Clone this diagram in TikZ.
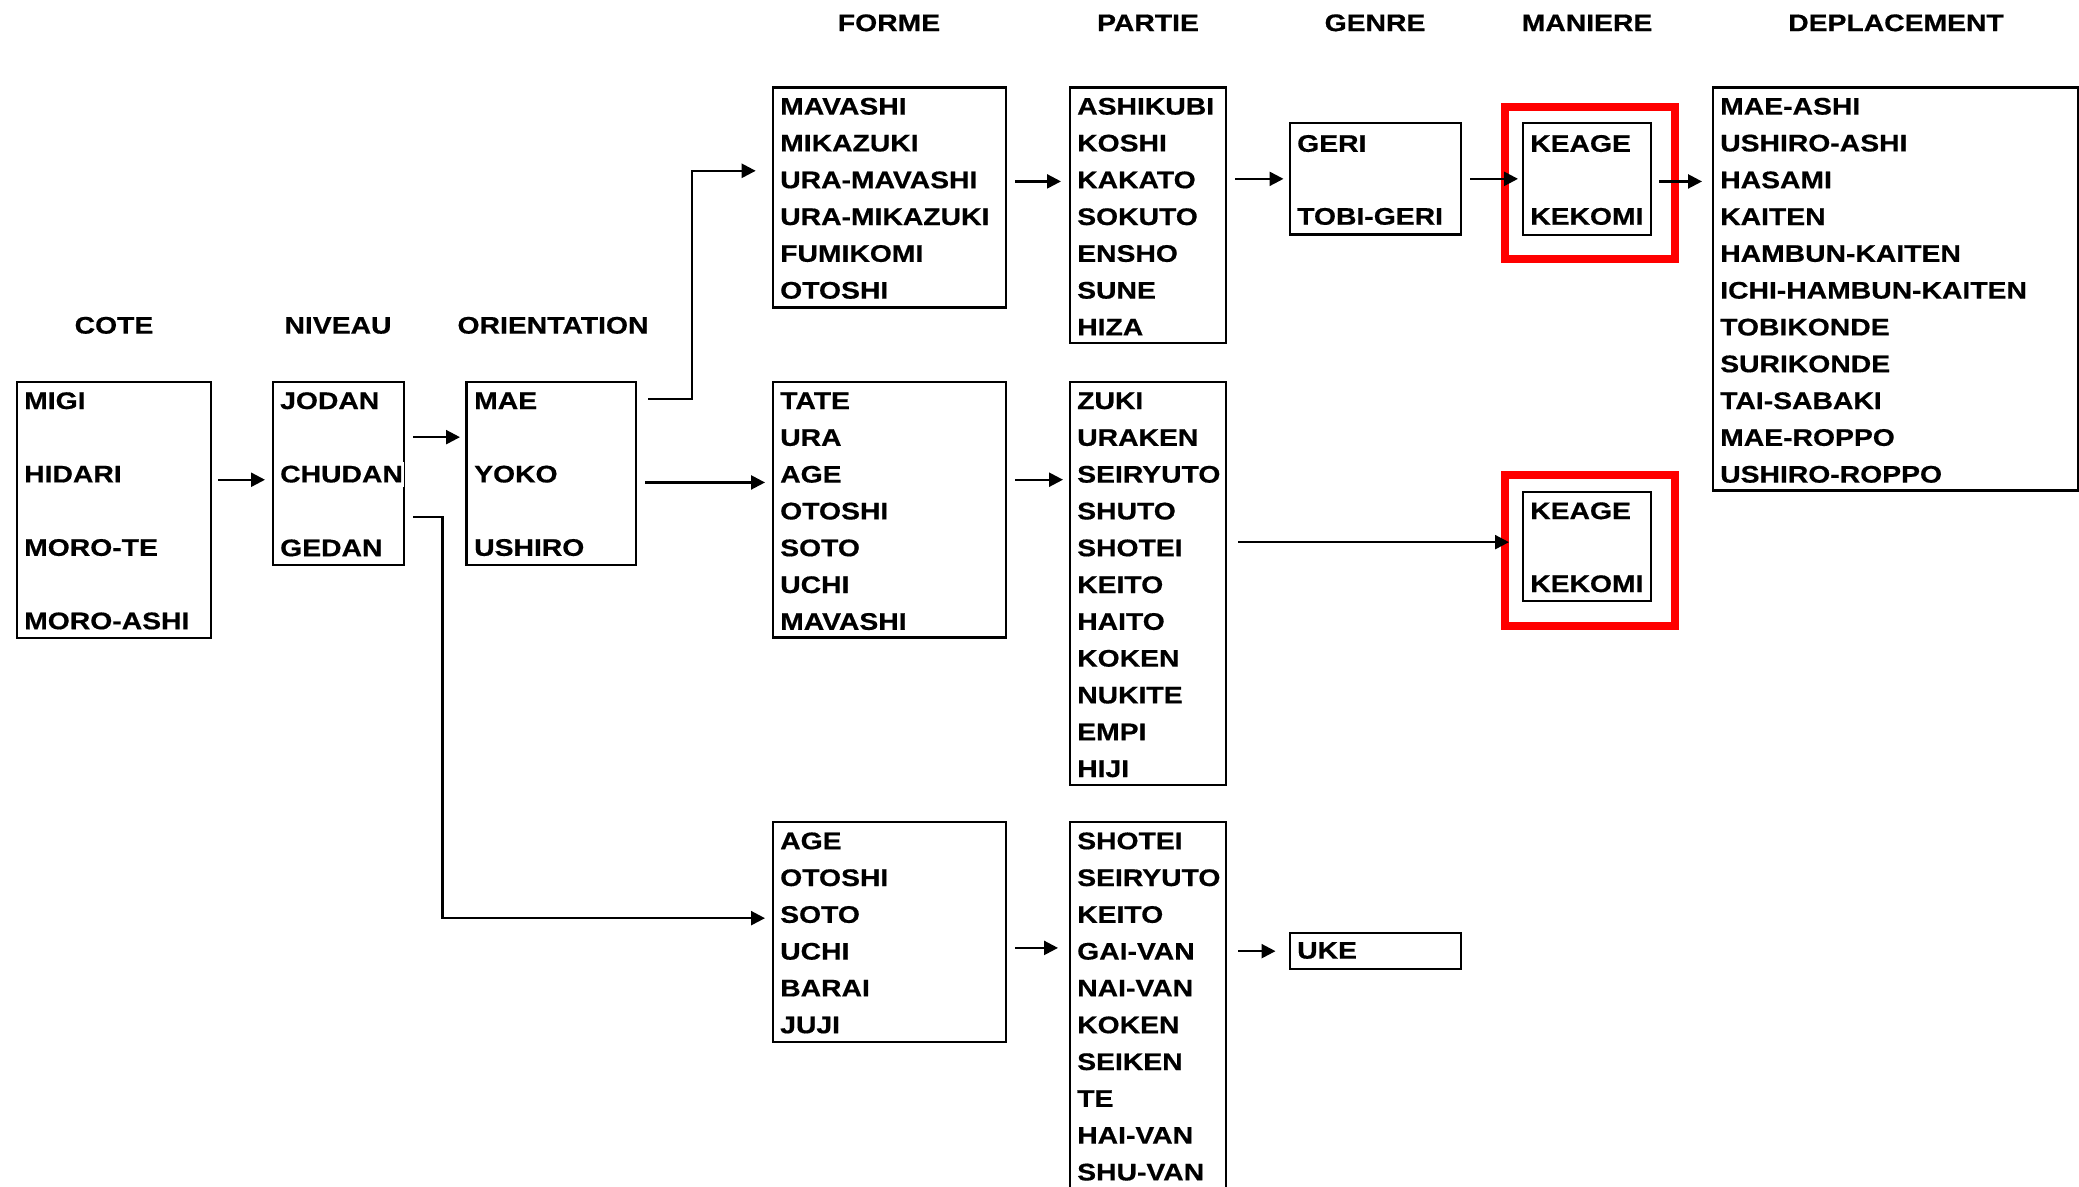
\documentclass[tikz,border=0pt]{standalone}
\usepackage{fontspec}
\newfontfamily\pixfont[FakeStretch=1.18,BoldFeatures={FakeBold=0.6}]{Liberation Sans}
\usetikzlibrary{arrows.meta}
\newcommand\colitems[5]{%
  \foreach \t [count=\i] in {#5} {\node[item] (#1-\i) at (#2,{#3+(\i-1)*#4+8.6}) {\t};}}
\begin{document}
\begin{tikzpicture}[x=1pt,y=-1pt,
  box/.style={draw,line width=2.3pt,anchor=north west,inner sep=0pt},
  redframe/.style={draw=red,line width=8pt,anchor=north west,inner sep=0pt},
  item/.style={anchor=base west,inner sep=0pt,font=\pixfont\bfseries\fontsize{24}{24}\selectfont},
  head/.style={anchor=base,inner sep=0pt,font=\pixfont\bfseries\fontsize{24}{24}\selectfont},
  arr/.style={line width=2.4pt,-{Triangle[length=14pt,width=14pt]}}
]
\useasboundingbox (0,0) rectangle (2079,1186);
\clip (0,0) rectangle (2079,1186);

% headers
\node[head] (hcote) at (114,333.6) {COTE};
\node[head] (hniveau) at (338,333.6) {NIVEAU};
\node[head] (horient) at (553,333.6) {ORIENTATION};
\node[head] (hforme) at (889,31.1) {FORME};
\node[head] (hpartie) at (1148,31.1) {PARTIE};
\node[head] (hgenre) at (1375,31.1) {GENRE};
\node[head] (hmaniere) at (1587,31.1) {MANIERE};
\node[head] (hdepl) at (1896,31.1) {DEPLACEMENT};

% boxes
\node[box,minimum width=193.5pt,minimum height=256pt] (cote) at (16,380.5) {};
\node[box,minimum width=131.2pt,minimum height=183pt] (niveau) at (271.8,380.5) {};
\node[box,minimum width=169.6pt,minimum height=183pt] (orient) at (465.4,380.5) {};
\node[box,minimum width=233.3pt,minimum height=220.1pt] (formeA) at (771.7,86.2) {};
\node[box,minimum width=156.4pt,minimum height=255.8pt] (partieA) at (1068.7,86.2) {};
\node[box,minimum width=171pt,minimum height=111.4pt] (genre) at (1288.8,122) {};
\node[redframe,minimum width=170pt,minimum height=152pt] (frameA) at (1501,103) {};
\node[box,minimum width=128pt,minimum height=112pt] (maniereA) at (1522,122) {};
\node[box,minimum width=365.3pt,minimum height=403.1pt] (depl) at (1711.7,86.2) {};
\node[box,minimum width=233.3pt,minimum height=255.9pt] (formeB) at (771.7,380.5) {};
\node[box,minimum width=156.4pt,minimum height=403.1pt] (partieB) at (1068.7,380.5) {};
\node[redframe,minimum width=170pt,minimum height=150.5pt] (frameB) at (1501,471) {};
\node[box,minimum width=128pt,minimum height=109.5pt] (maniereB) at (1522,490.5) {};
\node[box,minimum width=233.3pt,minimum height=220.1pt] (formeC) at (771.7,820.7) {};
\node[box,minimum width=156.4pt,minimum height=400pt] (partieC) at (1068.7,820.7) {};
\node[box,minimum width=171pt,minimum height=36pt] (uke) at (1288.8,932) {};

% items
\colitems{cote}{24}{400.4}{73.4}{MIGI,HIDARI,MORO-TE,MORO-ASHI}
\node[item] (niveau-1) at (280,409) {JODAN};
\node[item,fill=white,inner xsep=1.5pt,inner ysep=4pt] (niveau-2) at (278.5,482.4) {CHUDAN};
\node[item] (niveau-3) at (280,556.2) {GEDAN};
\colitems{orient}{474}{400.4}{73.4}{MAE,YOKO,USHIRO}
\colitems{formeA}{780}{106}{36.8}{MAVASHI,MIKAZUKI,URA-MAVASHI,URA-MIKAZUKI,FUMIKOMI,OTOSHI}
\colitems{partieA}{1077}{106}{36.8}{ASHIKUBI,KOSHI,KAKATO,SOKUTO,ENSHO,SUNE,HIZA}
\colitems{genre}{1297}{143.2}{72.9}{GERI,TOBI-GERI}
\colitems{maniereA}{1530}{143.2}{72.9}{KEAGE,KEKOMI}
\colitems{depl}{1720}{106}{36.8}{MAE-ASHI,USHIRO-ASHI,HASAMI,KAITEN,HAMBUN-KAITEN,ICHI-HAMBUN-KAITEN,TOBIKONDE,SURIKONDE,TAI-SABAKI,MAE-ROPPO,USHIRO-ROPPO}
\colitems{formeB}{780}{400.4}{36.8}{TATE,URA,AGE,OTOSHI,SOTO,UCHI,MAVASHI}
\colitems{partieB}{1077}{400.4}{36.8}{ZUKI,URAKEN,SEIRYUTO,SHUTO,SHOTEI,KEITO,HAITO,KOKEN,NUKITE,EMPI,HIJI}
\colitems{maniereB}{1530}{510.5}{72.9}{KEAGE,KEKOMI}
\colitems{formeC}{780}{840.6}{36.8}{AGE,OTOSHI,SOTO,UCHI,BARAI,JUJI}
\colitems{partieC}{1077}{840.6}{36.8}{SHOTEI,SEIRYUTO,KEITO,GAI-VAN,NAI-VAN,KOKEN,SEIKEN,TE,HAI-VAN,SHU-VAN}
\node[item] (uke-1) at (1297,958.6) {UKE};

% connectors
\draw[arr,shorten <=6.5pt,shorten >=6.8pt] ([yshift=29.9pt]cote.east) coordinate (s1) -- (niveau.west |- s1);
\draw[arr,shorten <=8pt,shorten >=5.4pt] ([yshift=36pt]niveau.east) coordinate (s2) -- (orient.west |- s2);
\draw[arr,shorten <=10.7pt,shorten >=16pt] ([yshift=74.2pt]orient.east) -- ++(54.5,0) |- ([yshift=26.6pt]formeA.west);
\draw[arr,shorten <=8pt,shorten >=6.7pt] ([yshift=-9.3pt]orient.east) coordinate (s4) -- (formeB.west |- s4);
\draw[arr,shorten <=8pt,shorten >=6.7pt] ([yshift=-43.8pt]niveau.east) -- ++(37.2,0) |- ([yshift=13.75pt]formeC.west);
\draw[arr,shorten <=8pt,shorten >=7.7pt] ([yshift=16pt]formeA.east) coordinate (s6) -- (partieA.west |- s6);
\draw[arr,shorten <=8pt,shorten >=5.3pt] (partieA.east |- genre.west) -- (genre.west);
\draw[arr,shorten <=8pt,shorten >=4pt] (genre.east) -- (maniereA.west |- genre.east);
\draw[arr,shorten <=7pt,shorten >=9.7pt] ([yshift=-2.3pt]maniereA.east) coordinate (s9) -- (depl.west |- s9);
\draw[arr,shorten <=8pt,shorten >=5.7pt] ([yshift=29.9pt]formeB.east) coordinate (s10) -- (partieB.west |- s10);
\path ([yshift=4.25pt]maniereB.west) coordinate (e11);
\draw[arr,shorten <=10.6pt,shorten >=13pt] (partieB.east |- e11) -- (e11);
\draw[arr,shorten <=8pt,shorten >=10.7pt] ([yshift=-16pt]formeC.east) coordinate (s12) -- (partieC.west |- s12);
\draw[arr,shorten <=10.6pt,shorten >=13.3pt] (partieC.east |- uke.west) -- (uke.west);
\end{tikzpicture}
\end{document}
